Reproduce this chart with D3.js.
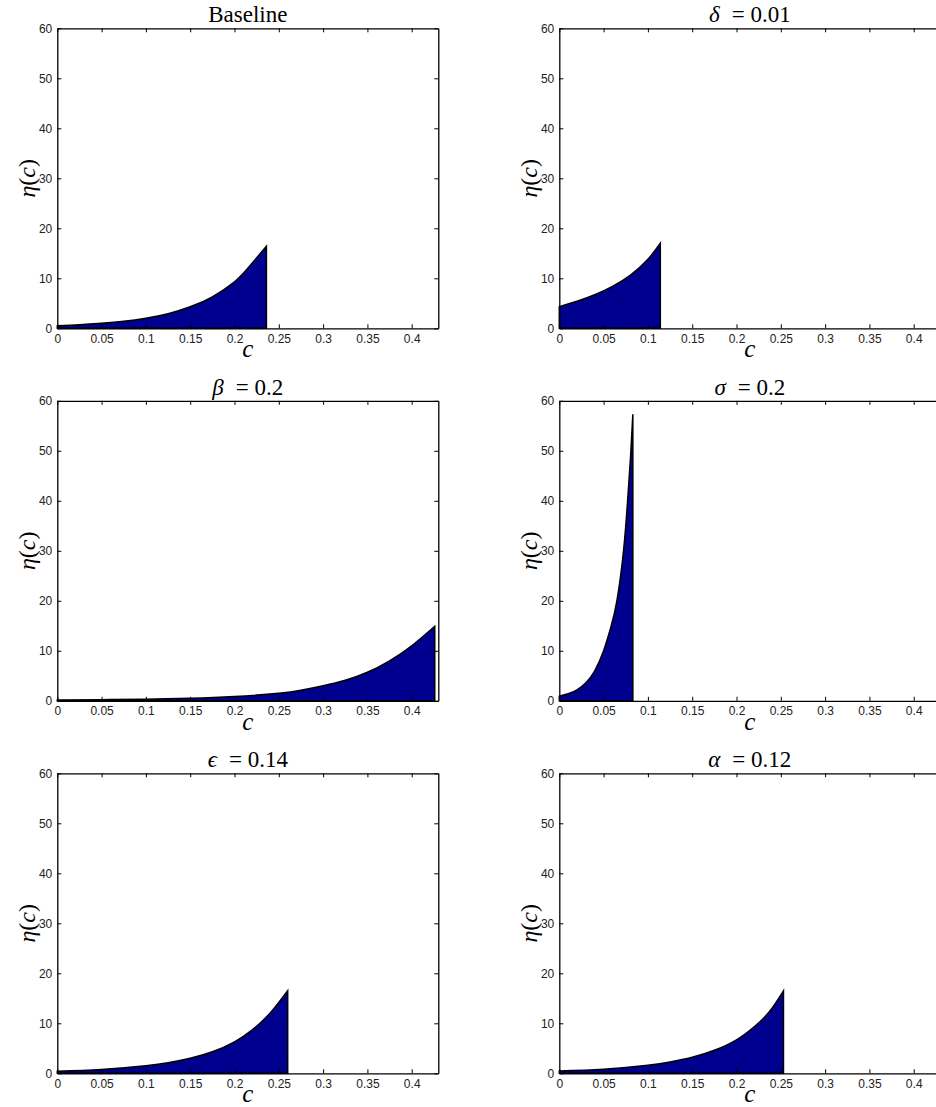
<!DOCTYPE html>
<html>
<head>
<meta charset="utf-8">
<script src="https://cdn.jsdelivr.net/npm/d3@7"></script>
<style>
  body { margin: 0; background: #fff; }
  svg { display: block; }
</style>
</head>
<body>
<div id="chart"></div>
<script>
// Values, one pair of arrays per panel
const cBaseline   = [0, 0.025, 0.05, 0.075, 0.1, 0.125, 0.15, 0.175, 0.2, 0.215, 0.236];
const etaBaseline = [0.5, 0.7, 1.0, 1.4, 2.0, 2.9, 4.3, 6.3, 9.3, 12.0, 16.4];

const cDelta   = [0, 0.02, 0.04, 0.06, 0.08, 0.1, 0.114];
const etaDelta = [4.3, 5.4, 6.7, 8.4, 10.6, 13.8, 17.0];

const cBeta   = [0, 0.05, 0.1, 0.15, 0.2, 0.25, 0.275, 0.3, 0.325, 0.35, 0.375, 0.4, 0.426];
const etaBeta = [0.15, 0.22, 0.33, 0.5, 0.85, 1.5, 2.1, 3.0, 4.1, 5.7, 8.0, 11.0, 14.9];

const cSigma   = [0, 0.01, 0.02, 0.03, 0.04, 0.05, 0.058, 0.065, 0.0725, 0.0771, 0.0805, 0.083];
const etaSigma = [0.9, 1.4, 2.2, 3.6, 6.0, 10.0, 14.6, 20.0, 30.0, 40.0, 49.0, 57.3];

const cEps   = [0, 0.05, 0.1, 0.125, 0.15, 0.175, 0.2, 0.22, 0.24, 0.26];
const etaEps = [0.4, 0.75, 1.5, 2.1, 3.0, 4.3, 6.3, 8.7, 12.0, 16.5];

const cAlpha   = [0, 0.05, 0.1, 0.125, 0.15, 0.175, 0.2, 0.22, 0.237, 0.253];
const etaAlpha = [0.45, 0.8, 1.6, 2.25, 3.2, 4.6, 6.7, 9.3, 12.3, 16.5];

const paramSymbols = [null, "δ", "β", "σ", "ϵ", "α"];
const paramValues  = [null, "0.01", "0.2", "0.2", "0.14", "0.12"];
const baseTitle = "Baseline";

const xTicks = [0, 0.05, 0.1, 0.15, 0.2, 0.25, 0.3, 0.35, 0.4];
const yTicks = [0, 10, 20, 30, 40, 50, 60];

const panels = [
  [cBaseline, etaBaseline],
  [cDelta, etaDelta],
  [cBeta, etaBeta],
  [cSigma, etaSigma],
  [cEps, etaEps],
  [cAlpha, etaAlpha]
];

// Layout
const W = 936, H = 1107;
const colLeft = [57.3, 559.3];
const rowTop = [28.3, 400.8, 773.3];
const pw = 381, ph = 300;

const svg = d3.select("#chart").append("svg")
    .attr("width", W)
    .attr("height", H);

panels.forEach(function(p, i) {
    const col = i % 2, row = Math.floor(i / 2);
    const g = svg.append("g")
        .attr("transform", `translate(${colLeft[col]},${rowTop[row]})`);

    const x = d3.scaleLinear().domain([0, 0.43]).range([0, pw]);
    const y = d3.scaleLinear().domain([0, 60]).range([ph, 0]);

    const pts = p[0].map((c, k) => [c, p[1][k]]);

    // filled area with black edge
    const area = d3.area()
        .x(d => x(d[0]))
        .y0(y(0))
        .y1(d => y(d[1]))
        .curve(d3.curveNatural);

    g.append("path")
        .datum(pts)
        .attr("d", area)
        .attr("fill", "#00008f")
        .attr("stroke", "#000")
        .attr("stroke-width", 1.5)
        .attr("stroke-linejoin", "miter");

    // axes (ticks pointing inward, box all round)
    const tickFmt = d => d3.format("")(d);
    const bottom = g.append("g")
        .attr("transform", `translate(0,${ph})`)
        .call(d3.axisBottom(x).tickValues(xTicks).tickSizeInner(-4).tickSizeOuter(0).tickPadding(6).tickFormat(tickFmt));
    const left = g.append("g")
        .call(d3.axisLeft(y).tickValues(yTicks).tickSizeInner(-4).tickSizeOuter(0).tickPadding(5));
    const top = g.append("g")
        .call(d3.axisTop(x).tickValues(xTicks).tickSizeInner(-4).tickSizeOuter(0).tickFormat(""));
    const right = g.append("g")
        .attr("transform", `translate(${pw},0)`)
        .call(d3.axisRight(y).tickValues(yTicks).tickSizeInner(-4).tickSizeOuter(0).tickFormat(""));

    [bottom, left, top, right].forEach(a => {
        a.select(".domain").attr("stroke", "#000").attr("stroke-width", 1.3);
        a.selectAll(".tick line").attr("stroke", "#000").attr("stroke-width", 1);
        a.selectAll(".tick text")
            .attr("fill", "#222")
            .style("font-family", "'Liberation Sans', Arial, sans-serif")
            .style("font-size", "12px");
    });

    // title
    const title = g.append("text")
        .attr("x", pw / 2)
        .attr("y", -6)
        .attr("text-anchor", "middle")
        .style("font-family", "'Liberation Serif', 'DejaVu Serif', serif")
        .style("font-size", "23px")
        .attr("fill", "#000");
    if (paramSymbols[i] === null) {
        title.text(baseTitle);
    } else {
        title.append("tspan").style("font-style", "italic").text(paramSymbols[i]);
        title.append("tspan").attr("dx", 12).text("= " + paramValues[i]);
    }

    // x label
    g.append("text")
        .attr("x", pw / 2)
        .attr("y", ph + 29)
        .attr("text-anchor", "middle")
        .style("font-family", "'Liberation Serif', 'DejaVu Serif', serif")
        .style("font-style", "italic")
        .style("font-size", "25px")
        .text("c");

    // y label
    g.append("text")
        .attr("transform", `translate(-22,${ph / 2}) rotate(-90)`)
        .attr("text-anchor", "middle")
        .style("font-family", "'Liberation Serif', 'DejaVu Serif', serif")
        .style("font-size", "24px")
        .html('<tspan font-style="italic">η</tspan>(<tspan font-style="italic">c</tspan>)');
});
</script>
</body>
</html>
